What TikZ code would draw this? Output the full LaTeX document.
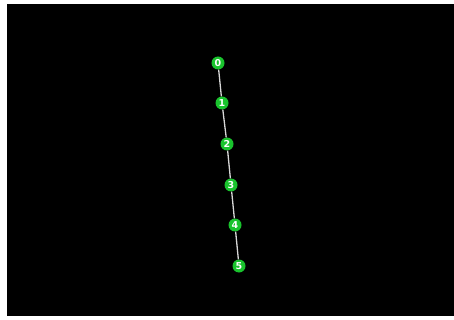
\documentclass[tikz,border=0pt]{standalone}
\usepackage{fontspec}
\setmainfont{DejaVu Sans}
\begin{document}
\begin{tikzpicture}[x=1pt,y=-1pt,
  vert/.style={circle,fill={rgb,255:red,25;green,195;blue,45},minimum size=13pt,inner sep=0pt,text=white,font=\bfseries\fontsize{9.5}{9.5}\selectfont},
  edge/.style={draw={rgb,255:red,215;green,215;blue,215},line width=1.3pt}]
\useasboundingbox (0,0) rectangle (454,320);
\fill[white] (0,0) rectangle (454,320);
\fill[black] (7,4) rectangle (454,316);
\node[vert] (n0) at (218,63) {0};
\node[vert] (n1) at (222,103) {1};
\node[vert] (n2) at (227,144) {2};
\node[vert] (n3) at (231,185) {3};
\node[vert] (n4) at (235,225) {4};
\node[vert] (n5) at (239,266) {5};
\draw[edge] (n0) -- (n1);
\draw[edge] (n1) -- (n2);
\draw[edge] (n2) -- (n3);
\draw[edge] (n3) -- (n4);
\draw[edge] (n4) -- (n5);
\end{tikzpicture}
\end{document}
